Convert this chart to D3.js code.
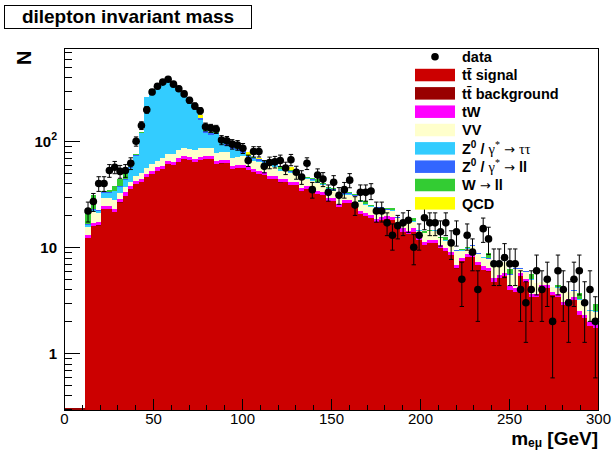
<!DOCTYPE html>
<html>
<head>
<meta charset="utf-8">
<script src="https://cdn.jsdelivr.net/npm/d3@7"></script>
<style>
  body { margin: 0; background: #fff; }
  svg { display: block; }
  text { font-family: "Liberation Sans", Arial, Helvetica, "DejaVu Sans", sans-serif; }
</style>
</head>
<body>
<svg id="chart" width="612" height="450"></svg>
<script>
// ---- binning: 100 bins of 3 GeV between 0 and 300 GeV ----
const binWidth = 3;
const binLow = d3.range(0, 300, binWidth);

// ---- stacked MC components (events per bin), bottom to top ----
const ttSignal = [
  0, 0, 0, 0, 12.2, 15.8, 16, 22.8, 22.8, 21.5,
  26.4, 30.7, 35.2, 39.3, 41, 45.7, 49.2, 52.8, 55, 61,
  59.6, 64.2, 68, 66.5, 64, 66.6, 67.5, 67.5, 60.6, 61.6,
  61.9, 54.3, 55.5, 56.2, 53.5, 51, 48.7, 48, 44.3, 44.3,
  40.8, 41.3, 38.4, 38.4, 33.7, 35.3, 33.1, 31.8, 31.1, 27.1,
  27.1, 24.1, 26, 26, 25, 20.6, 19.7, 18.7, 17.1, 18.1,
  18.3, 18.1, 15.1, 14, 13.3, 14, 11.7, 10.5, 11, 11,
  9.8, 9.2, 8.4, 6.3, 7.4, 8.1, 8.1, 6.8, 6.1, 5.9,
  4.7, 5.1, 5.35, 3.96, 3.8, 5.35, 4.7, 3.37, 3.4, 4.1,
  4.1, 3.55, 3.37, 2.86, 3.07, 3.18, 2.3, 2.14, 1.81, 1.72
];
const ttBackground = [
  0, 0, 0, 0, 0.05, 0.05, 0.06, 0.08, 0.08, 0.08,
  0.1, 0.1, 0.12, 0.14, 0.15, 0.16, 0.17, 0.18, 0.2, 0.21,
  0.21, 0.22, 0.23, 0.23, 0.22, 0.23, 0.23, 0.23, 0.21, 0.21,
  0.21, 0.19, 0.19, 0.19, 0.18, 0.18, 0.17, 0.17, 0.15, 0.15,
  0.14, 0.14, 0.13, 0.13, 0.12, 0.12, 0.11, 0.11, 0.11, 0.09,
  0.09, 0.08, 0.09, 0.09, 0.09, 0.07, 0.07, 0.06, 0.06, 0.06,
  0.06, 0.06, 0.05, 0.05, 0.05, 0.05, 0.04, 0.04, 0.04, 0.04,
  0.03, 0.03, 0.03, 0.02, 0.03, 0.03, 0.03, 0.02, 0.02, 0.02,
  0.02, 0.02, 0.02, 0.01, 0.01, 0.02, 0.02, 0.01, 0.01, 0.01,
  0.01, 0.01, 0.01, 0.01, 0.01, 0.01, 0.01, 0.01, 0.01, 0.01
];
const tW = [
  0, 0, 0, 0, 0.9, 1.0, 1.1, 1.5, 1.5, 1.5,
  1.8, 2.1, 2.4, 2.7, 2.9, 3.2, 3.4, 3.7, 3.9, 4.3,
  4.2, 4.5, 4.8, 4.7, 4.5, 4.7, 4.7, 4.7, 4.2, 4.3,
  4.3, 3.8, 3.9, 3.9, 3.7, 3.6, 3.4, 3.4, 3.1, 3.1,
  2.9, 2.9, 2.7, 2.7, 2.4, 2.5, 2.3, 2.2, 2.2, 1.9,
  1.9, 1.7, 1.8, 1.8, 1.7, 1.5, 1.4, 1.3, 1.2, 1.3,
  1.3, 1.3, 1.1, 1, 1, 1, 0.9, 0.8, 0.8, 0.8,
  0.7, 0.7, 0.6, 0.5, 0.5, 0.6, 0.6, 0.5, 0.5, 0.4,
  0.4, 0.4, 0.4, 0.3, 0.3, 0.4, 0.35, 0.25, 0.25, 0.3,
  0.3, 0.25, 0.25, 0.2, 0.2, 0.2, 0.2, 0.15, 0.15, 0.13
];
const diboson = [
  0, 0, 0, 0, 2.5, 4.8, 3.8, 4.7, 4.7, 4.9,
  4.1, 3.9, 4.0, 5, 6, 7, 8, 9, 10, 11,
  12, 13, 14, 14, 14, 14, 14, 14, 13, 13,
  13, 12, 12, 12, 11, 11, 11, 10.5, 11, 10,
  9, 9.5, 9, 6.5, 7.5, 6, 6.5, 6.2, 5, 6,
  5, 4.5, 3.5, 3.5, 3.5, 4.5, 4, 3.8, 4.8, 3.7,
  2.6, 2.6, 2.6, 2.6, 3.3, 2.3, 1.6, 2.2, 2.3, 2.5,
  1.6, 1.6, 1.6, 2.4, 1.3, 1.0, 1.5, 1.3, 1.3, 1.4,
  1.6, 1.5, 1.45, 1.2, 2.1, 0.45, 0.75, 1.3, 0.9, 0.25,
  0.25, 0.4, 0.5, 0.8, 0.5, 0.45, 0.7, 0.85, 0.55, 0.6
];
const zTauTau = [
  0, 0, 0, 0, 0.6, 0.9, 1.0, 3.6, 3.8, 5.8,
  5.0, 6.3, 14, 26, 70, 204, 245, 268, 280, 290,
  250, 230, 198, 158, 122, 74, 34, 28, 38, 19,
  11, 15, 11, 6, 3, 2.5, 2.5, 2, 2, 2,
  1.5, 1.5, 1.5, 1, 1, 1, 1, 0.8, 0.8, 0.8,
  0.8, 0.5, 0.5, 0.5, 0.4, 0.5, 0.3, 0.4, 0.3, 0.3,
  0.3, 0.3, 0.2, 0.2, 0.2, 0.2, 0.2, 0.1, 0.1, 0.1,
  0.1, 0.1, 0.1, 0.1, 0.1, 0.1, 0.1, 0.1, 0.1, 0.1,
  0.05, 0.05, 0.05, 0.05, 0.05, 0.05, 0.05, 0.05, 0.05, 0.05,
  0.05, 0.05, 0.05, 0.05, 0.03, 0.03, 0.03, 0.03, 0.03, 0.03
];
const zLL = [
  0, 0, 0, 0, 0.3, 0.3, 0.3, 0.7, 0.6, 0.5,
  0.6, 0.6, 1, 1, 1, 2, 2, 2, 3, 3,
  3, 3, 3, 3, 4, 5, 6, 6, 5, 3,
  3, 3, 2, 2, 1.5, 1.5, 2, 1, 1.5, 1,
  0.7, 0.8, 0.5, 0.5, 0.5, 0.5, 1.2, 0.5, 0.4, 0.5,
  0.4, 0.4, 0.4, 0.4, 0.3, 0.4, 0.3, 0.3, 0.3, 0.3,
  0.2, 0.3, 0.2, 0.1, 0.1, 0.1, 0.1, 0.1, 0.1, 0.1,
  0.1, 0.1, 0.1, 0.05, 0.2, 0.1, 0.2, 0.05, 0.05, 0.05,
  0.05, 0.01, 0.05, 0.05, 0.05, 0.05, 0.05, 0.05, 0, 0,
  0, 0, 0, 0.05, 0, 0.1, 0, 0, 0, 0
];
const wLL = [
  0, 0, 0, 0, 4.4, 8.2, 0.4, 0.9, 1.0, 3.9,
  6.1, 7.0, 3.1, 1.5, 2, 2, 2, 2, 2, 2,
  1.5, 1.5, 1.5, 1.5, 1.5, 2, 1.5, 2, 2, 2,
  2, 3, 3, 2, 1.5, 1.5, 1, 1.6, 1.5, 1.3,
  2, 1.6, 1, 0.8, 1.3, 1.1, 0.5, 2.2, 0.6, 0.8,
  0.8, 0.6, 0.6, 0.6, 0.5, 0.5, 1.3, 0.5, 0.4, 0.4,
  0.6, 0.7, 0.2, 0.2, 0.2, 1.2, 0.1, 0.6, 0.3, 0.1,
  0.1, 0.7, 0.1, 0.05, 0.1, 0.2, 0, 0.05, 0.05, 0.95,
  0, 0, 0, 0.65, 0, 0, 0, 0.6, 0, 0,
  0, 0, 0.25, 0, 0, 0, 0.45, 0, 0, 0.4
];
const qcd = [
  0, 0, 0, 0, 0, 0, 0, 0, 0, 0,
  0, 0, 0, 0, 0, 0, 1.5, 1.5, 2, 2,
  1, 1, 1, 1, 1, 10, 0.5, 1, 0, 0,
  0.5, 1, 0.5, 0.5, 5.6, 0.4, 0.4, 0, 0.8, 0,
  0, 0, 4.5, 0, 0, 0, 0, 0, 0, 0,
  0, 0, 0, 0, 0, 0, 0, 0, 0, 0,
  0, 0, 0, 0, 0, 0, 0, 0, 0, 0,
  0, 0, 0, 0, 0, 0, 0, 0, 0, 0,
  0, 0, 0, 0, 0, 0, 0, 0, 0, 0,
  0, 0, 0, 0, 0, 0, 0, 0, 0, 0
];

// ---- observed events per bin ----
const dataCounts = [
  0, 0, 0, 0, 22, 27, 40, 40, 53, 57,
  52, 53, 62, 100, 141, 198, 292, 331, 362, 385,
  346, 313, 280, 244, 215, 194, 137, 133, 130, 103,
  101, 94, 92, 86, 66, 80, 80, 58, 63, 64,
  66, 56, 67, 51, 46, 62, 35, 48, 44, 33,
  41, 31, 35, 43, 25, 33, 33, 34, 22, 22,
  17, 13, 16, 17, 18, 10, 13, 19, 17, 17,
  14, 17, 11, 14, 5, 13, 9, 4, 15, 12,
  7, 7, 8, 7, 7, 4, 3, 4, 6, 4,
  5, 2, 6, 4, 3, 5, 6, 3, 4, 2
];

// ---- axis ticks ----
const xMajorTicks = [0, 50, 100, 150, 200, 250, 300];
const xMinorTicks = d3.range(0, 301, 10);
const yMajorTicks = [1, 10, 100];
const yMinorTicks = [0.3, 0.4, 0.5, 0.6, 0.7, 0.8, 0.9, 2, 3, 4, 5, 6, 7, 8, 9,
                     20, 30, 40, 50, 60, 70, 80, 90, 200, 300, 400, 500, 600, 700];

// ---- components with their colours and legend labels ----
const greek = { font: "'Liberation Serif', 'DejaVu Serif', serif" };
const arrow = { font: "'DejaVu Sans', sans-serif", size: 13 };
const components = [
  { values: ttSignal,     color: "#cc0000", label: [{ t: "tt\u0304 signal" }] },
  { values: ttBackground, color: "#990000", label: [{ t: "tt\u0304 background" }] },
  { values: tW,           color: "#ff00ff", label: [{ t: "tW" }] },
  { values: diboson,      color: "#ffffcc", label: [{ t: "VV" }] },
  { values: zTauTau,      color: "#33ccff", label: [{ t: "Z" }, { t: "0", sup: true }, { t: " / " },
                                                    { t: "\u03b3", ...greek }, { t: "*", sup: true, ...greek },
                                                    { t: " " }, { t: "\u2192", ...arrow }, { t: " " },
                                                    { t: "\u03c4\u03c4", ...greek }] },
  { values: zLL,          color: "#3366ff", label: [{ t: "Z" }, { t: "0", sup: true }, { t: " / " },
                                                    { t: "\u03b3", ...greek }, { t: "*", sup: true, ...greek },
                                                    { t: " " }, { t: "\u2192", ...arrow }, { t: " ll" }] },
  { values: wLL,          color: "#33cc33", label: [{ t: "W " }, { t: "\u2192", ...arrow }, { t: " ll" }] },
  { values: qcd,          color: "#ffff00", label: [{ t: "QCD" }] }
];

// ---- frame and scales ----
const frame = { left: 64, right: 598, top: 48, bottom: 410 };
const yMin = 0.2917, yMax = 759;
const x = d3.scaleLinear().domain([0, 300]).range([frame.left, frame.right]);
const y = d3.scaleLog().domain([yMin, yMax]).range([frame.bottom, frame.top]).clamp(true);
const yPos = v => (v > 0 ? y(v) : frame.bottom);

const svg = d3.select("#chart");
svg.append("rect").attr("width", 612).attr("height", 450).attr("fill", "#fff");

// ---- title box ----
svg.append("rect")
  .attr("x", 4.5).attr("y", 5.5).attr("width", 247).attr("height", 23)
  .attr("fill", "#fff").attr("stroke", "#000").attr("stroke-width", 1);
svg.append("text")
  .attr("x", 128).attr("y", 22.5)
  .attr("text-anchor", "middle").attr("font-weight", "bold").attr("font-size", 19)
  .text("dilepton invariant mass");

// ---- stacked histogram: cumulative tops, painted from the top layer down ----
let running = binLow.map(() => 0);
const cumulative = components.map(c => {
  running = running.map((r, i) => r + c.values[i]);
  return running.slice();
});
const stepPoints = vals => vals.flatMap((v, i) => [[binLow[i], v], [binLow[i] + binWidth, v]]);
const stepArea = d3.area()
  .x(d => x(d[0]))
  .y0(frame.bottom)
  .y1(d => yPos(d[1]));

const stackG = svg.append("g");
for (let k = components.length - 1; k >= 0; k--) {
  stackG.append("path")
    .attr("d", stepArea(stepPoints(cumulative[k])))
    .attr("fill", components[k].color)
    .attr("shape-rendering", "crispEdges");
}
// empty leading bins sit on the lower edge of the frame
const firstFilled = ttSignal.findIndex(v => v > 0);
stackG.append("line")
  .attr("x1", x(0)).attr("x2", x(binLow[firstFilled]))
  .attr("y1", frame.bottom - 1).attr("y2", frame.bottom - 1)
  .attr("stroke", "#990000").attr("stroke-width", 2);

// ---- data points with sqrt(N) error bars ----
const dataG = svg.append("g");
const points = dataCounts
  .map((n, i) => ({ n, cx: x(binLow[i] + binWidth / 2) }))
  .filter(d => d.n > 0);
const capHalf = 2.2;
points.forEach(d => {
  const err = Math.sqrt(d.n);
  const yHi = y(d.n + err), yLo = yPos(d.n - err);
  dataG.append("line").attr("x1", d.cx).attr("x2", d.cx).attr("y1", yHi).attr("y2", yLo)
    .attr("stroke", "#000").attr("stroke-width", 1);
  [yHi, yLo].forEach(yy => dataG.append("line")
    .attr("x1", d.cx - capHalf).attr("x2", d.cx + capHalf).attr("y1", yy).attr("y2", yy)
    .attr("stroke", "#000").attr("stroke-width", 1));
});
dataG.selectAll("circle").data(points).join("circle")
  .attr("cx", d => d.cx).attr("cy", d => y(d.n)).attr("r", 3.8).attr("fill", "#000");

// ---- axes (ticks point into the frame) ----
const axG = svg.append("g").attr("shape-rendering", "crispEdges");
const xMinorAxis = axG.append("g").attr("transform", `translate(0,${frame.bottom})`)
  .call(d3.axisBottom(x).tickValues(xMinorTicks).tickSize(-5.4).tickSizeOuter(0).tickFormat(""));
const xMajorAxis = axG.append("g").attr("transform", `translate(0,${frame.bottom})`)
  .call(d3.axisBottom(x).tickValues(xMajorTicks).tickSize(-10.9).tickSizeOuter(0).tickPadding(3));
const yMinorAxis = axG.append("g").attr("transform", `translate(${frame.left},0)`)
  .call(d3.axisLeft(y).tickValues(yMinorTicks).tickSize(-8).tickSizeOuter(0).tickFormat(""));
const yMajorAxis = axG.append("g").attr("transform", `translate(${frame.left},0)`)
  .call(d3.axisLeft(y).tickValues(yMajorTicks).tickSize(-16).tickSizeOuter(0).tickFormat(""));
[xMinorAxis, xMajorAxis, yMinorAxis, yMajorAxis].forEach(g => {
  g.select(".domain").remove();
  g.selectAll("line").attr("stroke", "#000");
});
xMajorAxis.selectAll("text")
  .attr("font-size", 15).attr("fill", "#000")
  .attr("font-family", "'Liberation Sans', Arial, sans-serif");

// log-axis labels: 1, 10, 10^2
yMajorAxis.selectAll(".tick").each(function (v) {
  const t = d3.select(this).append("text")
    .attr("x", -7).attr("dy", "0.36em").attr("text-anchor", "end")
    .attr("font-size", 15).attr("font-weight", "bold").attr("fill", "#000");
  const exp = Math.round(Math.log10(v));
  if (exp <= 1) {
    t.text(String(v));
  } else {
    t.append("tspan").text("10");
    t.append("tspan").attr("dy", -7).attr("font-size", 10.5).text(String(exp));
  }
});

// frame
axG.append("rect")
  .attr("x", frame.left).attr("y", frame.top)
  .attr("width", frame.right - frame.left).attr("height", frame.bottom - frame.top)
  .attr("fill", "none").attr("stroke", "#000").attr("stroke-width", 1);

// axis titles
svg.append("text")
  .attr("transform", `translate(31,50.5) rotate(-90)`)
  .attr("text-anchor", "end").attr("font-weight", "bold").attr("font-size", 20)
  .text("N");
const xTitle = svg.append("text")
  .attr("x", frame.right).attr("y", 444.5)
  .attr("text-anchor", "end").attr("font-weight", "bold").attr("font-size", 19);
xTitle.append("tspan").text("m");
xTitle.append("tspan").attr("dy", 2.5).attr("font-size", 12).text("e\u03bc");
xTitle.append("tspan").attr("dy", -2.5).text(" [GeV]");

// ---- legend ----
const legend = { markerX: 435, swatchX: 415, swatchW: 40, swatchH: 12.5, textX: 462, y0: 56.7, step: 18.33 };
const legendG = svg.append("g");
const legendRows = [{ marker: true, label: [{ t: "data" }] }].concat(components);
legendRows.forEach((row, i) => {
  const cy = legend.y0 + i * legend.step;
  if (row.marker) {
    legendG.append("circle").attr("cx", legend.markerX).attr("cy", cy).attr("r", 3.8).attr("fill", "#000");
  } else {
    legendG.append("rect")
      .attr("x", legend.swatchX).attr("y", cy - legend.swatchH / 2)
      .attr("width", legend.swatchW).attr("height", legend.swatchH)
      .attr("fill", row.color);
  }
  const txt = legendG.append("text")
    .attr("x", legend.textX).attr("y", cy + 5.3)
    .attr("font-size", 14.5).attr("font-weight", "bold").attr("fill", "#000");
  let shifted = false;
  row.label.forEach(seg => {
    const ts = txt.append("tspan").text(seg.t);
    if (seg.font) ts.attr("font-family", seg.font).attr("font-weight", "normal");
    if (seg.size) ts.attr("font-size", seg.size);
    if (seg.sup && !shifted) { ts.attr("dy", -6).attr("font-size", 10); shifted = true; }
    else if (!seg.sup && shifted) { ts.attr("dy", 6); shifted = false; }
    else if (seg.sup) { ts.attr("font-size", 10); }
  });
});
</script>
</body>
</html>
